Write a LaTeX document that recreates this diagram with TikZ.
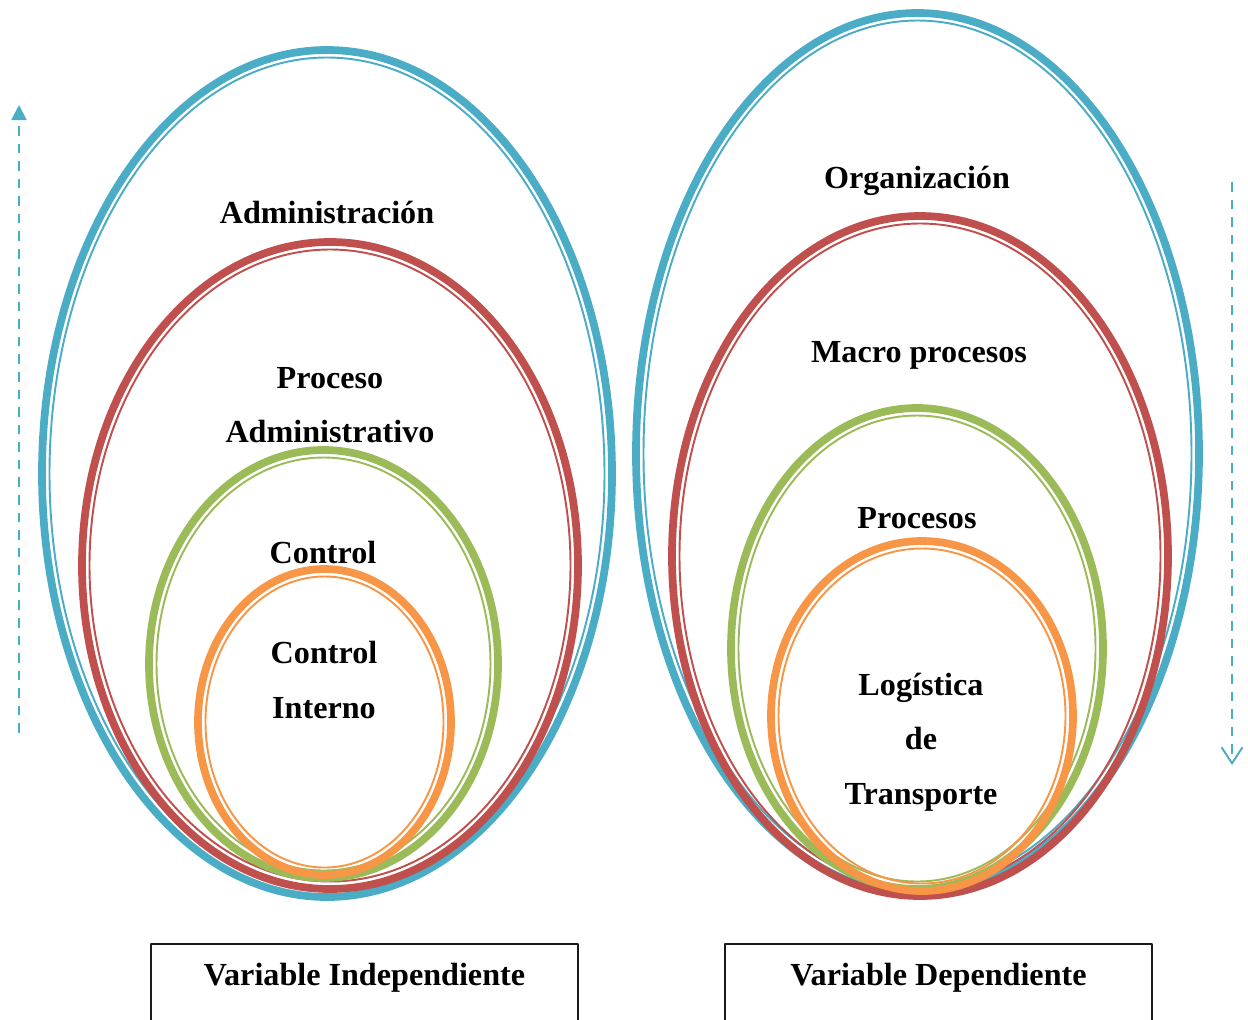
\documentclass[tikz,border=0pt]{standalone}
\usepackage{fontspec}
\setmainfont{Liberation Serif}
\usepackage{xcolor}
\usepackage{tikz}
\usetikzlibrary{arrows.meta,positioning}
\definecolor{ringblue}{HTML}{4BACC6}
\definecolor{ringred}{HTML}{C0504D}
\definecolor{ringgreen}{HTML}{9BBB59}
\definecolor{ringorange}{HTML}{F79646}
\definecolor{ink}{HTML}{1A1A1A}
\tikzset{
    every picture/.style={line join=round},
    thickring/.style={line width=4.4pt},
    thinring/.style={line width=1.1pt},
    ringlabel/.style={font=\bfseries\fontsize{18.3}{31}\selectfont,text=black,
      align=center,inner sep=1pt},
    varbox/.style={draw=ink,line width=1.1pt,anchor=north,minimum width=8.54cm,
      inner ysep=11pt,text depth=1.4cm,font=\bfseries\fontsize{18.3}{22}\selectfont},
    flowline/.style={draw=ringblue,line width=1.1pt,dash pattern=on 5.5pt off 4.5pt}
}

\begin{document}
\begin{tikzpicture}[x=0.02cm,y=-0.02cm]
  \useasboundingbox (0,0) rectangle (1248,1019);

  % left rings: independent variable
  \draw[ringblue,thickring] (327,473.5) ellipse [x radius=285, y radius=423.5];
  \draw[ringblue,thinring] (327,473.5) ellipse [x radius=277.5, y radius=416];
  \draw[ringred,thickring] (330,565.5) ellipse [x radius=248, y radius=323.5];
  \draw[ringred,thinring] (330,565.5) ellipse [x radius=240.5, y radius=316];
  \draw[ringgreen,thickring] (323.5,664) ellipse [x radius=174.5, y radius=214];
  \draw[ringgreen,thinring] (323.5,664) ellipse [x radius=167, y radius=206.5];
  \draw[ringorange,thickring] (324.5,722) ellipse [x radius=126.5, y radius=153];
  \draw[ringorange,thinring] (324.5,722) ellipse [x radius=119, y radius=145.5];

  % right rings: dependent variable
  \draw[ringblue,thickring] (917.5,453.5) ellipse [x radius=281.5, y radius=440.5];
  \draw[ringblue,thinring] (917.5,453.5) ellipse [x radius=274, y radius=433];
  \draw[ringred,thickring] (920,556) ellipse [x radius=248, y radius=340];
  \draw[ringred,thinring] (920,556) ellipse [x radius=240.5, y radius=332.5];
  \draw[ringgreen,thickring] (917,648.5) ellipse [x radius=186, y radius=240.5];
  \draw[ringgreen,thinring] (917,648.5) ellipse [x radius=178.5, y radius=233];
  \draw[ringorange,thickring] (922,716) ellipse [x radius=151, y radius=175];
  \draw[ringorange,thinring] (922,716) ellipse [x radius=143.5, y radius=167.5];

  % labels
  \node[ringlabel] (admin) at (327,212) {Administración};
  \node[ringlabel] (procadm) at (330,405) {Proceso\\Administrativo};
  \node[ringlabel] (control) at (323,552) {Control};
  \node[ringlabel] (ctrlint) at (324,680) {Control\\Interno};

  \node[ringlabel] (org) at (917,181) {Organización};
  \node[ringlabel] (macro) at (919,355) {Macro procesos};
  \node[ringlabel] (proc) at (917,518) {Procesos};
  \node[ringlabel] (logis) at (921,742) {Logística\\de\\Transporte};

  % variable boxes
  \node[varbox] (indep) at (364.5,943) {Variable Independiente};
  \node[varbox] (dep) at (938.5,943) {Variable Dependiente};

  % direction arrows
  \coordinate (upfoot) at (19,733);
  \coordinate (uphead) at (19,105);
  \coordinate (downfoot) at (1232,182);
  \coordinate (downhead) at (1232,765);
  \draw[flowline,-{Triangle[length=0.3cm,width=0.3cm,sep=0pt]}] (upfoot) -- (uphead);
  \draw[flowline,-{Straight Barb[length=0.32cm,width=0.42cm]}] (downfoot) -- (downhead);
\end{tikzpicture}
\end{document}
